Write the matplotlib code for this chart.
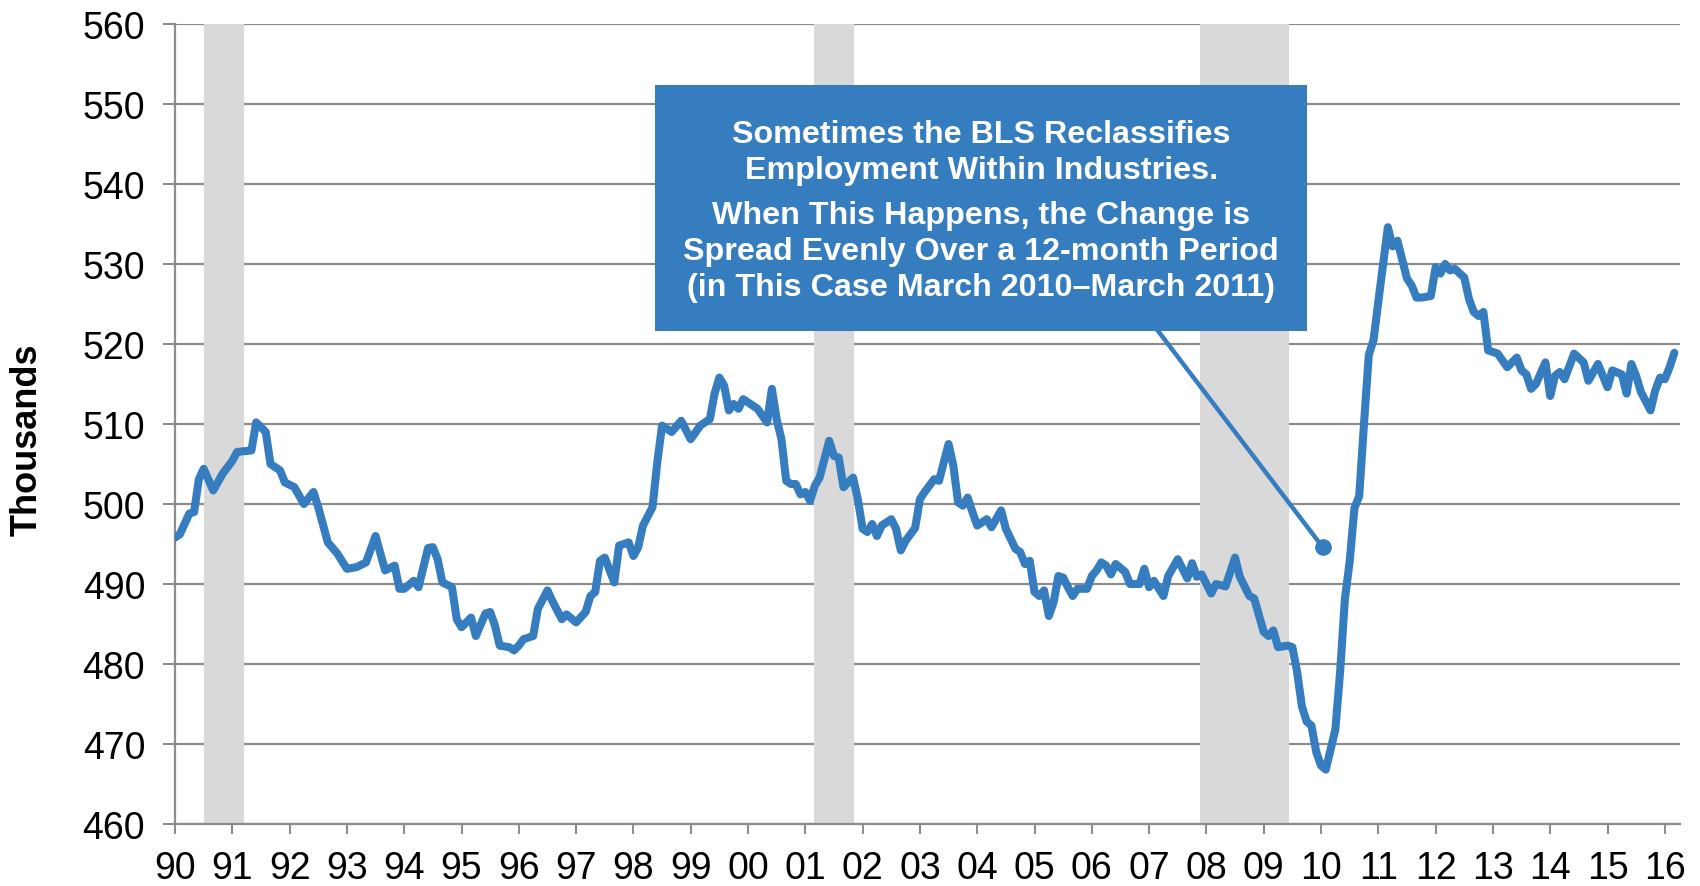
import matplotlib
matplotlib.use("Agg")
import matplotlib.pyplot as plt
from matplotlib.patches import Rectangle
import numpy as np

plt.rcParams['font.family'] = ['Liberation Sans', 'DejaVu Sans']

# months since Jan 1990 and employment (thousands)
months = [0, 1, 3, 4, 5, 6, 8, 10, 12, 13, 16, 17, 19, 20, 22, 23, 25, 27, 29, 30,
          32, 34, 36, 38, 40, 42, 44, 46, 47, 48, 50, 51, 53, 54, 55, 56, 58, 59, 60, 62,
          63, 65, 66, 67, 68, 70, 71, 72, 73, 75, 76, 78, 79, 81, 82, 84, 86, 87, 88, 89,
          90, 92, 93, 95, 96, 97, 98, 100, 101, 102, 104, 106, 108, 110, 112, 113, 114, 115, 116, 117,
          118, 119, 121, 122, 124, 125, 126, 127, 128, 129, 130, 131, 132, 133, 134, 135, 137, 138, 139, 140,
          142, 143, 144, 145, 146, 147, 148, 150, 151, 152, 153, 155, 156, 157, 159, 160, 162, 163, 164, 165,
          166, 167, 168, 170, 171, 173, 174, 176, 177, 178, 179, 180, 181, 182, 183, 184, 185, 186, 187, 188,
          189, 191, 192, 193, 194, 195, 196, 197, 199, 200, 202, 203, 204, 205, 207, 208, 210, 212, 213, 214,
          215, 217, 218, 220, 222, 223, 225, 226, 228, 229, 230, 231, 233, 234, 235, 236, 237, 238, 239, 240,
          241, 243, 244, 245, 246, 247, 248, 249, 250, 251, 252, 254, 255, 256, 258, 259, 260, 261, 263, 264,
          265, 266, 267, 268, 270, 271, 272, 273, 274, 275, 276, 277, 279, 281, 282, 283, 284, 285, 287, 288,
          289, 290, 291, 293, 295, 296, 298, 300, 301, 303, 304, 305, 306, 307, 309, 310, 311, 312, 313, 314]
values = [495.8, 496.2, 498.8, 499.0, 503.1, 504.4, 501.7, 503.8, 505.4, 506.5, 506.7, 510.2, 509.0, 505.0, 504.2, 502.7, 502.1, 500.0, 501.5, 499.6,
          495.2, 493.8, 491.9, 492.1, 492.7, 496.0, 491.7, 492.3, 489.4, 489.4, 490.4, 489.6, 494.5, 494.6, 493.1, 490.2, 489.6, 485.6, 484.6, 485.8,
          483.5, 486.3, 486.5, 484.8, 482.3, 482.1, 481.7, 482.3, 483.1, 483.5, 486.9, 489.2, 487.9, 485.6, 486.2, 485.2, 486.5, 488.5, 489.0, 492.9,
          493.3, 490.2, 494.8, 495.2, 493.5, 494.6, 497.3, 499.6, 505.2, 509.8, 509.0, 510.4, 508.1, 509.8, 510.6, 513.8, 515.8, 514.8, 511.7, 512.5,
          511.9, 513.1, 512.3, 511.9, 510.2, 514.4, 510.6, 508.1, 502.9, 502.5, 502.5, 501.2, 501.5, 500.4, 502.3, 503.3, 507.9, 506.0, 505.8, 502.1,
          503.3, 500.6, 496.9, 496.5, 497.5, 496.0, 497.3, 498.1, 496.9, 494.2, 495.4, 497.0, 500.6, 501.5, 503.1, 502.9, 507.5, 504.8, 500.2, 499.8,
          500.8, 499.0, 497.3, 498.1, 497.1, 499.2, 496.9, 494.4, 494.0, 492.5, 492.9, 489.0, 488.5, 489.2, 486.0, 487.7, 491.0, 490.8, 489.6, 488.5,
          489.4, 489.4, 491.0, 491.7, 492.7, 492.3, 491.2, 492.5, 491.5, 490.0, 490.0, 491.9, 489.6, 490.4, 488.5, 491.0, 493.1, 490.7, 492.6, 490.9,
          491.2, 488.8, 490.0, 489.7, 493.3, 490.9, 488.5, 488.2, 484.0, 483.5, 484.2, 482.1, 482.3, 482.1, 479.0, 474.7, 472.8, 472.3, 469.0, 467.3,
          466.8, 471.8, 479.0, 488.1, 492.8, 499.5, 501.0, 510.0, 518.6, 520.5, 525.3, 534.6, 532.2, 532.9, 528.2, 527.3, 525.8, 525.8, 526.0, 529.6,
          528.8, 530.0, 529.2, 529.4, 528.3, 525.6, 524.0, 523.5, 524.0, 519.2, 519.0, 518.8, 517.1, 518.3, 516.7, 516.2, 514.4, 515.0, 517.7, 513.5,
          516.0, 516.5, 515.6, 518.8, 517.7, 515.4, 517.5, 514.6, 516.7, 516.2, 513.8, 517.5, 516.0, 514.0, 511.7, 514.2, 515.8, 515.6, 517.1, 518.9]

recession_start = [1990.5, 2001.15, 2007.88]
recession_end = [1991.2, 2001.85, 2009.45]

year_ticks = list(range(1990, 2017))
year_labels = ['90', '91', '92', '93', '94', '95', '96', '97', '98', '99', '00', '01', '02',
               '03', '04', '05', '06', '07', '08', '09', '10', '11', '12', '13', '14', '15', '16']

callout_lines = ["Sometimes the BLS Reclassifies", "Employment Within Industries.",
                 "When This Happens, the Change is", "Spread Evenly Over a 12-month Period",
                 "(in This Case March 2010\u2013March 2011)"]
marker_point = (2010.03, 494.6)

blue = '#367DC0'
grid_c = '#8C8C8C'

fig = plt.figure(figsize=(17, 8.87), dpi=100)
ax = fig.add_axes([175/1700, 1-825/887, (1680-175)/1700, 800/887])

dates = 1990 + np.array(months) / 12.0
ax.set_xlim(1990, 2016.265)
ax.set_ylim(460, 560)

for s, e in zip(recession_start, recession_end):
    ax.axvspan(s, e, color='#D9D9D9', zorder=2, lw=0)

ax.set_yticks(np.arange(460, 561, 10))
ax.yaxis.grid(True, color=grid_c, lw=1.6, zorder=1)
ax.set_axisbelow(True)
ax.plot(dates, values, color=blue, lw=5.8, solid_joinstyle='round', solid_capstyle='round', zorder=4)

ax.set_xticks(year_ticks)
ax.set_xticklabels(year_labels)
ax.tick_params(axis='x', direction='out', length=7.5, width=1.5, color=grid_c, labelsize=27, pad=11)
ax.tick_params(axis='y', direction='out', length=8.5, width=1.5, color=grid_c, labelsize=27, pad=13)
for side in ['top', 'right']:
    ax.spines[side].set_visible(False)
for side in ['left', 'bottom']:
    ax.spines[side].set_color(grid_c)
    ax.spines[side].set_linewidth(1.6)
    ax.spines[side].set_zorder(3)

ax.set_ylabel('Thousands', fontsize=26, fontweight='bold', va='center')
ax.yaxis.set_label_coords(-0.0985, 0.482)

# callout box
bx0, bx1 = 1998.38, 2009.76
by0, by1 = 521.6, 552.4
ax.add_patch(Rectangle((bx0, by0), bx1 - bx0, by1 - by0, facecolor=blue, edgecolor='none', zorder=6))
cx = (bx0 + bx1) / 2
line_y = [546.3, 541.8, 536.1, 531.6, 527.1]
for t, yy in zip(callout_lines, line_y):
    ax.text(cx, yy, t, ha='center', va='center', color='white', fontsize=23.2, fontweight='bold', zorder=7)

ax.plot([2007.16, marker_point[0]], [by0, marker_point[1]], color=blue, lw=3.2, zorder=5)
ax.plot([marker_point[0]], [marker_point[1]], 'o', color=blue, markersize=11, zorder=5)

fig.savefig('out.png', dpi=100)
